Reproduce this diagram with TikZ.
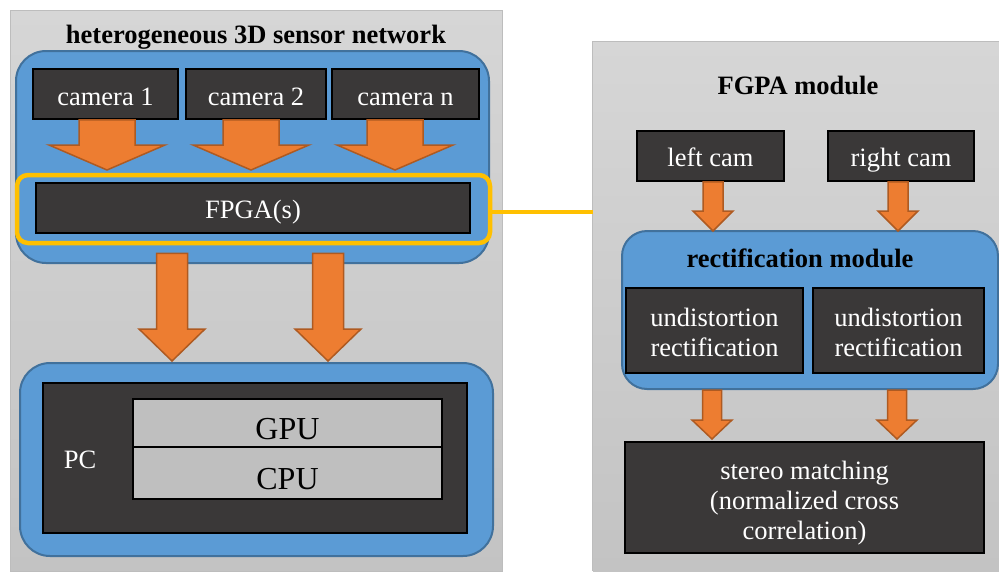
\documentclass[tikz,border=0pt]{standalone}
\usepackage{fontspec}
\setmainfont{Liberation Serif}
\usetikzlibrary{calc}

\definecolor{panelTop}{HTML}{D6D6D6}
\definecolor{panelBot}{HTML}{C3C3C3}
\definecolor{panelEdge}{HTML}{BDBDBD}
\definecolor{boxDark}{HTML}{3A3838}
\definecolor{groupBlue}{HTML}{5B9BD5}
\definecolor{groupEdge}{HTML}{41719C}
\definecolor{flowOrange}{HTML}{ED7D31}
\definecolor{flowEdge}{HTML}{AE5A21}
\definecolor{hiYellow}{HTML}{FFC000}
\definecolor{chipGray}{HTML}{BFBFBF}

\tikzset{
  panel/.style={rectangle, inner sep=0pt, top color=panelTop, bottom color=panelBot},
  group/.style={rectangle, rounded corners=30pt, fill=groupBlue, draw=groupEdge, line width=2pt, inner sep=0pt},
  darkbox/.style={rectangle, fill=boxDark, draw=black, line width=1.8pt, text=white, inner sep=0pt,
    font=\fontsize{26.5}{30}\selectfont},
  chip/.style={rectangle, fill=chipGray, draw=black, line width=1.5pt, inner sep=0pt,
    font=\fontsize{32}{36}\selectfont},
  heading/.style={font=\fontsize{26.5}{30}\selectfont\bfseries, inner sep=0pt},
  blockarr/.style={fill=flowOrange, draw=flowEdge, line width=1.5pt, line join=miter},
  highlight/.style={rectangle, draw=hiYellow, line width=4.5pt, rounded corners=11pt, inner sep=0pt},
}

% centred lines of text, lowered by the optional amount without changing the box size
\newcommand\boxtext[2][0pt]{%
  \raisebox{-#1}[\height][\depth]{\begin{tabular}{@{}c@{}}#2\end{tabular}}}

% block arrow: from #1 (start height) down to the tip #2,
% shaft half width #3, head half width #4, head length #5 (all pt)
\newcommand\flowarrow[5]{%
  \draw[blockarr] let \p1=(#1), \p2=(#2) in
    (\x2-#3pt,\y1) -- (\x2+#3pt,\y1) -- (\x2+#3pt,\y2+#5pt) -- (\x2+#4pt,\y2+#5pt)
    -- (\x2,\y2) -- (\x2-#4pt,\y2+#5pt) -- (\x2-#3pt,\y2+#5pt) -- cycle;}

\begin{document}
\begin{tikzpicture}[x=1pt, y=-1pt]
\useasboundingbox (0,0) rectangle (999,571);

% ---------- left panel: sensor network ----------
\node[panel, draw=panelEdge, line width=1pt, minimum width=492pt, minimum height=561pt] (lpanel) at (256,290.5) {};
\node[heading] (ltitle) at (256,35) {\boxtext[2pt]{heterogeneous 3D sensor network}};

\node[group, minimum width=473pt, minimum height=212pt] (sensgroup) at (252.5,157) {};
\node[darkbox, minimum width=145pt, minimum height=50pt] (cam1) at (105.5,94) {\boxtext[5pt]{camera 1}};
\node[darkbox, minimum width=140pt, minimum height=50pt] (cam2) at (256,94) {\boxtext[5pt]{camera 2}};
\node[darkbox, minimum width=147pt, minimum height=50pt] (camn) at (405.5,94) {\boxtext[5pt]{camera n}};
\node[darkbox, minimum width=434pt, minimum height=50pt] (fpga) at (253,208) {\boxtext[4pt]{FPGA(s)}};
\node[highlight, minimum width=473pt, minimum height=68pt] (fpgaframe) at (253.5,209) {};

\coordinate (t1) at (107,170);
\coordinate (t2) at (251,170);
\coordinate (t3) at (395,170);
\flowarrow{cam1.south}{t1}{28}{58}{25}
\flowarrow{cam2.south}{t2}{28}{58}{25}
\flowarrow{camn.south}{t3}{28}{58}{25}

\node[group, minimum width=473pt, minimum height=193pt] (pcgroup) at (256.5,459.5) {};
\node[darkbox, line width=2.5pt, minimum width=424pt, minimum height=150pt] (pc) at (255,458) {};
\node[text=white, font=\fontsize{26.5}{30}\selectfont, inner sep=0pt] (pclabel) at (80,458) {\boxtext[4pt]{PC}};
\node[chip, minimum width=309pt, minimum height=48pt] (gpu) at (287.5,423) {\boxtext[9pt]{GPU}};
\node[chip, minimum width=309pt, minimum height=52pt] (cpu) at (287.5,473) {\boxtext[9.5pt]{CPU}};

\coordinate (t4) at (172,361);
\coordinate (t5) at (328,361);
\flowarrow{[yshift=-8pt]fpgaframe.south}{t4}{15.5}{33}{32}
\flowarrow{[yshift=-8pt]fpgaframe.south}{t5}{15.5}{33}{32}

% ---------- right panel: FPGA module ----------
\node[panel, minimum width=406pt, minimum height=529pt] (rpanel) at (796,306.5) {};
\draw[panelEdge, line width=1pt] (rpanel.south west) -- (rpanel.north west) -- (rpanel.north east);
\node[heading] (rtitle) at (798,87) {\boxtext[1pt]{FGPA module}};

\draw[hiYellow, line width=4.5pt] ([yshift=-3pt]fpgaframe.east) -- ([yshift=-3pt]fpgaframe.east -| rpanel.west);

\node[darkbox, minimum width=147pt, minimum height=50pt] (lcam) at (710.5,156) {\boxtext[4.5pt]{left cam}};
\node[darkbox, minimum width=146pt, minimum height=50pt] (rcam) at (901,156) {\boxtext[4.5pt]{right cam}};

\node[group, rounded corners=25pt, minimum width=376pt, minimum height=158pt] (rectgroup) at (810,310) {};
\node[heading] (recttitle) at (800,258) {\boxtext[3pt]{rectification module}};
\node[darkbox, minimum width=177pt, minimum height=85pt] (undl) at (714.5,330.5) {\boxtext[4.5pt]{undistortion\\rectification}};
\node[darkbox, minimum width=171pt, minimum height=85pt] (undr) at (898.5,330.5) {\boxtext[4.5pt]{undistortion\\rectification}};

\coordinate (t6) at (713,231);
\coordinate (t7) at (898,231);
\flowarrow{lcam.south}{t6}{10}{20}{20}
\flowarrow{rcam.south}{t7}{10}{20}{20}

\node[darkbox, minimum width=359pt, minimum height=111pt] (stereo) at (804.5,497.5)
  {\boxtext[5.5pt]{stereo matching\\(normalized cross\\correlation)}};

\coordinate (t8) at (712,439);
\coordinate (t9) at (897,439);
\flowarrow{rectgroup.south}{t8}{9.5}{20}{19}
\flowarrow{rectgroup.south}{t9}{9.5}{20}{19}
\end{tikzpicture}
\end{document}
